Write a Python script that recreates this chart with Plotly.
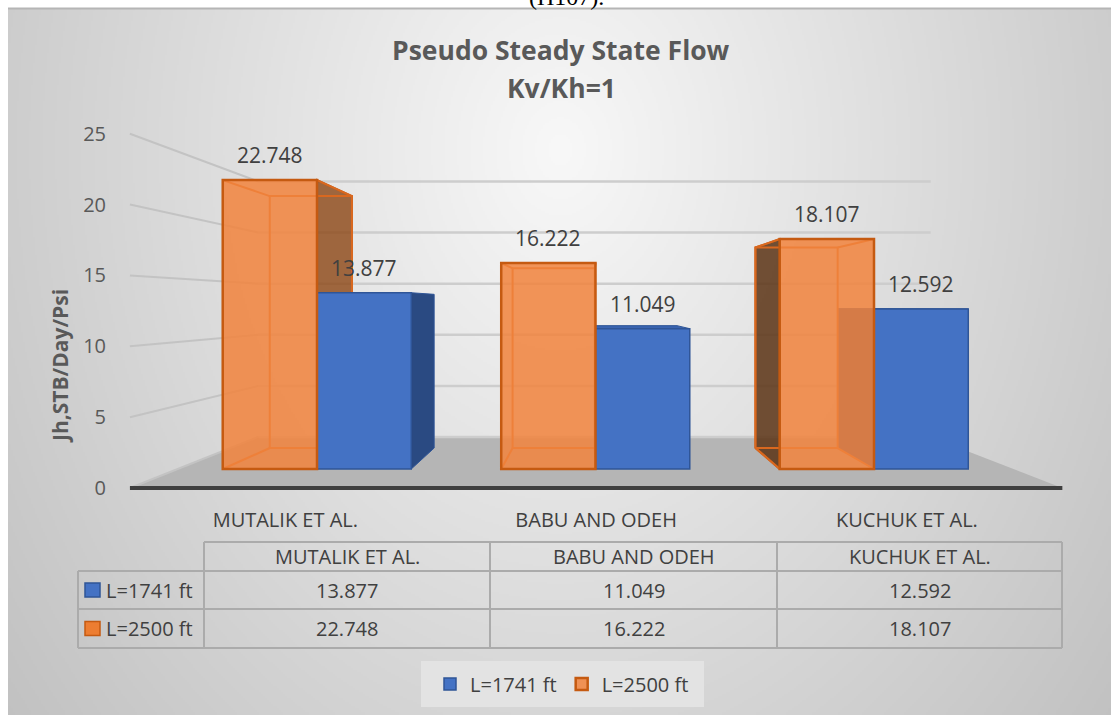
import base64, zlib, struct
import numpy as np
import plotly.graph_objects as go

# ---------------- data ----------------
categories = ["MUTALIK ET AL.", "BABU AND ODEH", "KUCHUK ET AL."]
series_names = ["L=1741 ft", "L=2500 ft"]
vals_1741 = [13.877, 11.049, 12.592]
vals_2500 = [22.748, 16.222, 18.107]
y_ticks = [0, 5, 10, 15, 20, 25]
title_lines = ["Pseudo Steady State Flow", "Kv/Kh=1"]
y_title = "Jh,STB/Day/Psi"
caption_text = "(H107)."

# ---------------- geometry / style ----------------
W, H = 1111, 715
FONT = "Open Sans"
CX0, CDX = 317.0, 278.5      # px of category 0 centre, px per category (bar plane)
VY0, VDY = 469.0, 12.7       # px of value 0, px per unit (bar plane)
VPX, VPY = 590.0, 305.0      # vanishing point (px)
S_BACK, S_WALL, S_FRONT = 0.872, 0.805, 1.116
BAR_W = 0.3385

BLUE, BLUE_LINE, BLUE_SIDE, BLUE_TOP = "#4472c4", "#2f5597", "#2a4a82", "#3a64b0"
ORANGE, ORANGE_LINE = "rgba(241,132,62,0.86)", "#c55a11"
OR_SIDE_R, OR_SIDE_L = "rgba(140,70,20,0.80)", "rgba(90,50,20,0.85)"


def px(x):
    return x / W


def py(y):
    return 1 - y / H


def png_uri(arr):
    h, w = arr.shape
    raw = b"".join(b"\x00" + arr[r].tobytes() for r in range(h))

    def chunk(t, d):
        c = struct.pack(">I", len(d)) + t + d
        return c + struct.pack(">I", zlib.crc32(t + d) & 0xFFFFFFFF)

    png = (b"\x89PNG\r\n\x1a\n"
           + chunk(b"IHDR", struct.pack(">IIBBBBB", w, h, 8, 0, 0, 0, 0))
           + chunk(b"IDAT", zlib.compress(raw, 9)) + chunk(b"IEND", b""))
    return "data:image/png;base64," + base64.b64encode(png).decode()


# radial background gradient of chart area
AX0, AY0 = 8, 8
gw, gh = (W - AX0) // 2, (H - AY0) // 2
gx = AX0 + (np.arange(gw) + 0.5) * 2
gy = AY0 + (np.arange(gh) + 0.5) * 2
XX, YY = np.meshgrid(gx, gy)
rr = np.sqrt(((XX - 560) / 700) ** 2 + ((YY - 150) / 900) ** 2)
grad = np.clip(248 - 54 * rr, 192, 255).astype(np.uint8)

u_vp = (VPX - CX0) / CDX
v_vp = (VY0 - VPY) / VDY


def proj(u, v, s):
    return u_vp + s * (u - u_vp), v_vp + s * (v - v_vp)


def poly(points):
    xs = [p[0] for p in points] + [points[0][0]]
    ys = [p[1] for p in points] + [points[0][1]]
    return xs, ys


fig = go.Figure()
common = dict(hoverinfo="skip", showlegend=False, xaxis="x", yaxis="y")

U0, U1 = -0.5, len(categories) - 0.5
# floor
xs, ys = poly([proj(U0, 0, S_FRONT), proj(U1, 0, S_FRONT), proj(U1, 0, S_WALL), proj(U0, 0, S_WALL)])
fig.add_trace(go.Scatter(x=xs, y=ys, fill="toself", fillcolor="#b5b5b5", mode="lines",
                         line=dict(color="rgba(0,0,0,0)", width=0), zorder=0, **common))
# back wall grid lines + left wall lines
bx, by, lx, ly = [], [], [], []
for t in y_ticks:
    a, b = proj(U0, t, S_WALL), proj(U1, t, S_WALL)
    bx += [a[0], b[0], None]
    by += [a[1], b[1], None]
    c = proj(U0, t, S_FRONT)
    lx += [c[0], a[0], None]
    ly += [c[1], a[1], None]
fig.add_trace(go.Scatter(x=bx, y=by, mode="lines", line=dict(color="#cdcdcd", width=2.5), zorder=0, **common))
fig.add_trace(go.Scatter(x=lx, y=ly, mode="lines", line=dict(color="#c3c3c3", width=2), zorder=0, **common))
# front axis line
a, b = proj(U0, 0, S_FRONT), proj(U1, 0, S_FRONT)
fig.add_trace(go.Scatter(x=[a[0], b[0]], y=[a[1], b[1]], mode="lines",
                         line=dict(color="#3f3f3f", width=4), zorder=0, **common))


def box_parts(u0, u1, val):
    faces = {}
    if u1 < u_vp:
        faces["right"] = [proj(u1, 0, 1), proj(u1, val, 1), proj(u1, val, S_BACK), proj(u1, 0, S_BACK)]
    if u0 > u_vp:
        faces["left"] = [proj(u0, 0, 1), proj(u0, val, 1), proj(u0, val, S_BACK), proj(u0, 0, S_BACK)]
    if val < v_vp:
        faces["top"] = [proj(u0, val, 1), proj(u1, val, 1), proj(u1, val, S_BACK), proj(u0, val, S_BACK)]
    return faces


# 3D side faces + hidden edges
ex, ey = [], []
for i, (vb, vo) in enumerate(zip(vals_1741, vals_2500)):
    for k, f in box_parts(i, i + BAR_W, vb).items():
        xs, ys = poly(f)
        fig.add_trace(go.Scatter(x=xs, y=ys, fill="toself", mode="lines",
                                 fillcolor=BLUE_TOP if k == "top" else BLUE_SIDE,
                                 line=dict(color=BLUE_LINE, width=1), zorder=1, **common))
    u0, u1 = i - BAR_W, i
    for k, f in box_parts(u0, u1, vo).items():
        if k == "top":
            continue
        xs, ys = poly(f)
        fig.add_trace(go.Scatter(x=xs, y=ys, fill="toself", mode="lines",
                                 fillcolor=OR_SIDE_R if k == "right" else OR_SIDE_L,
                                 line=dict(color=ORANGE_LINE, width=2), zorder=1, **common))
    back = [proj(u0, 0, S_BACK), proj(u1, 0, S_BACK), proj(u1, vo, S_BACK), proj(u0, vo, S_BACK)]
    front = [proj(u0, 0, 1), proj(u1, 0, 1), proj(u1, vo, 1), proj(u0, vo, 1)]
    xs, ys = poly(back)
    ex += xs + [None]
    ey += ys + [None]
    for p, q in zip(front, back):
        ex += [p[0], q[0], None]
        ey += [p[1], q[1], None]
fig.add_trace(go.Scatter(x=ex, y=ey, mode="lines", line=dict(color="#d9681f", width=2), zorder=1, **common))

# front faces (bars)
fig.add_trace(go.Bar(x=list(range(len(categories))), y=vals_1741, name=series_names[0],
                     width=BAR_W, offset=0, marker=dict(color=BLUE, line=dict(color=BLUE_LINE, width=1.5)),
                     hoverinfo="skip", zorder=2))
fig.add_trace(go.Bar(x=list(range(len(categories))), y=vals_2500, name=series_names[1],
                     width=BAR_W, offset=-BAR_W,
                     marker=dict(color=ORANGE, line=dict(color=ORANGE_LINE, width=2.5)),
                     hoverinfo="skip", zorder=2))
# dummy trace to hold tick-label axes
fig.add_trace(go.Scatter(x=[0, 1, 2], y=[0, 0, 0], xaxis="x2", yaxis="y2", mode="markers",
                         marker=dict(opacity=0, size=1), hoverinfo="skip", showlegend=False))

annotations = []
for i, (vb, vo) in enumerate(zip(vals_1741, vals_2500)):
    for v, uc in ((vo, i - BAR_W / 2), (vb, i + BAR_W / 2)):
        annotations.append(dict(x=uc, y=v, xref="x", yref="y", text=f"{v:.3f}", showarrow=False,
                                xanchor="center", yanchor="middle",
                                yshift=25, font=dict(family=FONT, size=21, color="#404040")))


def pann(x, y, text, font, **kw):
    d = dict(x=px(x), y=py(y), xref="paper", yref="paper", text=text, showarrow=False,
             xanchor="center", yanchor="middle", font=font)
    d.update(kw)
    return d


# titles
tf = dict(family=FONT, size=26.5, color="#595959")
annotations.append(pann(561, 50, f"<b>{title_lines[0]}</b>", tf))
annotations.append(pann(561, 88, f"<b>{title_lines[1]}</b>", tf))
annotations.append(pann(60, 366, f"<b>{y_title}</b>", dict(family=FONT, size=21, color="#595959"),
                        textangle=-90))
annotations.append(pann(566, 12, caption_text, dict(family="Liberation Serif", size=24, color="#000000"),
                        yanchor="bottom"))

# ---------------- data table ----------------
shapes = []
TL = "#ababab"
col_x = [78, 204, 490, 777, 1062]
row_y = [542, 571, 609, 648]


def pline(x0, y0, x1, y1):
    return dict(type="line", xref="paper", yref="paper", x0=px(x0), x1=px(x1),
                y0=py(y0), y1=py(y1), line=dict(color=TL, width=2), layer="below")


shapes.append(pline(col_x[1], row_y[0], col_x[-1], row_y[0]))
for yy in row_y[1:]:
    shapes.append(pline(col_x[0], yy, col_x[-1], yy))
shapes.append(pline(col_x[0], row_y[1], col_x[0], row_y[-1]))
for xx in col_x[1:]:
    shapes.append(pline(xx, row_y[0], xx, row_y[-1]))

tfont = dict(family=FONT, size=20, color="#404040")
for j, cat in enumerate(categories):
    cx = (col_x[j + 1] + col_x[j + 2]) / 2
    annotations.append(pann(cx, (row_y[0] + row_y[1]) / 2, cat, tfont))
rows = [(series_names[0], vals_1741, BLUE, BLUE_LINE), (series_names[1], vals_2500, "#ed7d31", ORANGE_LINE)]
for r, (nm, vals, fc, lc) in enumerate(rows):
    cy = (row_y[r + 1] + row_y[r + 2]) / 2
    shapes.append(dict(type="rect", xref="paper", yref="paper", x0=px(85), x1=px(100),
                       y0=py(cy - 7), y1=py(cy + 7), fillcolor=fc, line=dict(color=lc, width=1.5), layer="below"))
    annotations.append(pann(104, cy, nm, tfont, xanchor="left"))
    for j, v in enumerate(vals):
        cx = (col_x[j + 1] + col_x[j + 2]) / 2
        annotations.append(pann(cx, cy, f"{v:.3f}", tfont))

# chart area top border and legend box
shapes.append(dict(type="line", xref="paper", yref="paper", x0=px(AX0), x1=1, y0=py(AY0 + 0.5), y1=py(AY0 + 0.5),
                   line=dict(color="#b5b5b5", width=2), layer="below"))
shapes.append(dict(type="rect", xref="paper", yref="paper", x0=px(421), x1=px(704), y0=py(661), y1=py(707),
                   fillcolor="#e3e3e3", line=dict(width=0), layer="below"))

# axis ranges
xr = [(0 - CX0) / CDX, (W - CX0) / CDX]
yr = [(VY0 - H) / VDY, VY0 / VDY]
fy0 = VPY + S_FRONT * (VY0 - VPY)
fslope = S_FRONT * VDY
y2r = [(fy0 - H) / fslope, fy0 / fslope]
fx0 = VPX + S_FRONT * (CX0 - VPX)
fdx = S_FRONT * CDX
x2r = [(0 - fx0) / fdx, (W - fx0) / fdx]

fig.update_layout(
    width=W, height=H, margin=dict(l=0, r=0, t=0, b=0),
    paper_bgcolor="white", plot_bgcolor="rgba(0,0,0,0)",
    barmode="overlay",
    xaxis=dict(range=xr, visible=False, fixedrange=True),
    yaxis=dict(range=yr, visible=False, fixedrange=True),
    xaxis2=dict(range=x2r, overlaying="x", anchor="free", position=py(506), side="bottom",
                tickmode="array", tickvals=list(range(len(categories))), ticktext=categories,
                showgrid=False, zeroline=False, showline=False, ticks="",
                tickfont=dict(family=FONT, size=20, color="#404040")),
    yaxis2=dict(range=y2r, overlaying="y", anchor="free", position=px(106), side="left",
                tickmode="array", tickvals=y_ticks, showgrid=False, zeroline=False, showline=False,
                ticks="", tickfont=dict(family=FONT, size=20, color="#595959")),
    showlegend=True,
    legend=dict(orientation="h", x=px(562), xanchor="center", y=py(684), yanchor="middle",
                bgcolor="rgba(0,0,0,0)", font=dict(family=FONT, size=20, color="#404040"),
                itemwidth=30, traceorder="normal"),
    images=[dict(source=png_uri(grad), xref="paper", yref="paper", x=px(AX0), y=py(AY0),
                 sizex=1 - px(AX0), sizey=py(AY0) - 0, xanchor="left", yanchor="top",
                 sizing="stretch", layer="below")],
    shapes=shapes, annotations=annotations,
)

fig.write_html("out.html", config={"displayModeBar": False},
               post_script="document.body.style.margin='0';document.body.style.overflow='hidden';")
